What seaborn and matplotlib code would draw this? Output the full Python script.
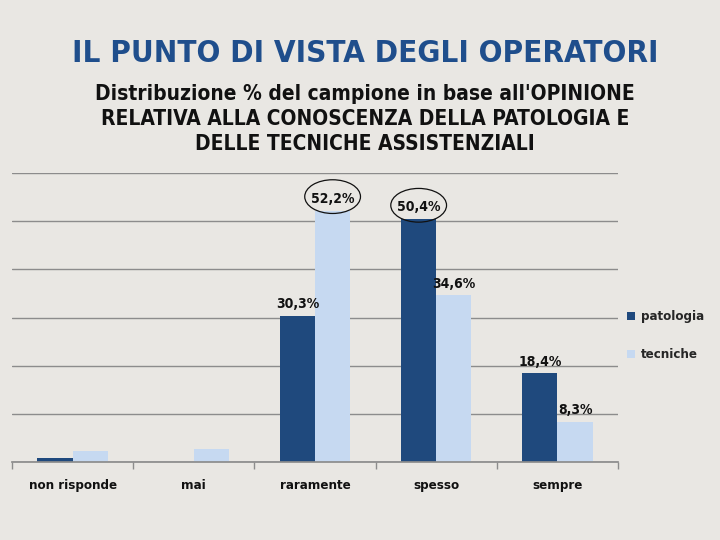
import seaborn as sns
import pandas as pd
import matplotlib.pyplot as plt
from matplotlib.patches import Ellipse, Patch

categorie = ['non risponde', 'mai', 'raramente', 'spesso', 'sempre']
patologia = [0.9, 0.0, 30.3, 50.4, 18.4]
tecniche = [2.2, 2.7, 52.2, 34.6, 8.3]
serie = ['patologia', 'tecniche']
colori = ['#1F497D', '#C6D9F1']
cerchiati = [('tecniche', 'raramente'), ('patologia', 'spesso')]

df = pd.DataFrame({
    'categoria': categorie * 2,
    'valore': patologia + tecniche,
    'serie': [serie[0]] * len(categorie) + [serie[1]] * len(categorie),
})

sns.set_theme(style='white')
bg = '#E9E7E3'
fig = plt.figure(figsize=(7.2, 5.4), dpi=100, facecolor=bg)
ax = fig.add_axes([0.0167, 0.1444, 0.8417, 0.5352])
ax.set_facecolor(bg)

sns.barplot(data=df, x='categoria', y='valore', hue='serie', palette=colori,
            width=0.58, saturation=1, ax=ax, legend=False, linewidth=0)

ax.set_ylim(0, 60)
ax.set_xlim(-0.5, 4.5)
ax.set_yticks(range(0, 61, 10))
ax.yaxis.grid(True, color='#8C8C8C', linewidth=1)
ax.set_axisbelow(True)
ax.tick_params(axis='y', left=False, labelleft=False)
for s in ['left', 'right', 'top']:
    ax.spines[s].set_visible(False)
ax.spines['bottom'].set_color('#8C8C8C')
ax.set_xlabel('')
ax.set_ylabel('')

# ticks at category boundaries
ax.set_xticks([i + 0.5 for i in range(-1, 5)], minor=True)
ax.tick_params(axis='x', which='minor', bottom=True, length=5, color='#8C8C8C', width=1)
ax.tick_params(axis='x', which='major', bottom=False, pad=6)
for lab in ax.get_xticklabels():
    lab.set_fontweight('bold')
    lab.set_fontsize(9.5)
    lab.set_fontstretch('condensed')
    lab.set_color('#111111')

# data labels
for cont, nome in zip(ax.containers, serie):
    for bar, cat in zip(cont, categorie):
        h = bar.get_height()
        if h < 5:
            continue
        xc = bar.get_x() + bar.get_width() / 2
        ax.text(xc, h + 1.0, f'{h:.1f}%'.replace('.', ','), ha='center', va='bottom',
                fontsize=10, fontweight='bold', fontstretch='condensed', color='#111111')
        if (nome, cat) in cerchiati:
            e = Ellipse((xc, h + 2.9), 0.46, 7.0, fill=False, edgecolor='#111111', linewidth=0.9,
                        clip_on=False)
            ax.add_patch(e)

handles = [Patch(facecolor=c, edgecolor='none') for c in colori]
leg = fig.legend(handles, serie, loc='center left', bbox_to_anchor=(0.855, 0.378),
                 frameon=False, handlelength=0.6, handleheight=0.6, handletextpad=0.4,
                 labelspacing=1.9, prop={'weight': 'bold', 'size': 9.5, 'stretch': 'condensed'})

fig.text(0.507, 0.901, 'IL PUNTO DI VISTA DEGLI OPERATORI', ha='center', va='center',
         fontsize=22.5, fontweight='bold', color='#1F4E8C', fontstretch='condensed')
fig.text(0.507, 0.78, "Distribuzione % del campione in base all'OPINIONE\n"
         "RELATIVA ALLA CONOSCENZA DELLA PATOLOGIA E\nDELLE TECNICHE ASSISTENZIALI",
         ha='center', va='center', fontsize=15, fontweight='bold', color='#111111',
         fontstretch='condensed', linespacing=1.3)

plt.savefig('out.png', dpi=100, facecolor=bg)
